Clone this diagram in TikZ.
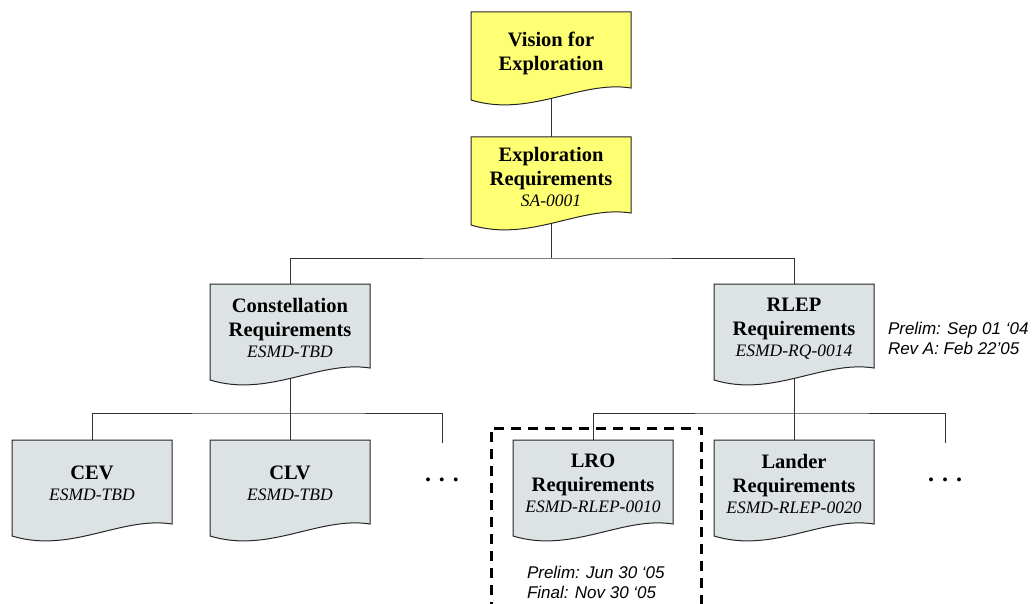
\documentclass[tikz,border=0pt]{standalone}
\usepackage{fontspec}
\setmainfont{Liberation Serif}
\newfontfamily\datefont{Liberation Sans}
\usetikzlibrary{positioning,calc}
\definecolor{docyellow}{RGB}{255,255,115}
\definecolor{docgrey}{RGB}{221,227,228}
\pgfdeclarelayer{background}
\pgfsetlayers{background,main}
% outline of a document node, wavy bottom edge
\newcommand\docshape[2]{
  \draw[docedge,fill=#2] (#1.north west) -- (#1.north east)
    -- ([yshift=12pt]#1.south east)
    .. controls ([xshift=-51pt,yshift=20pt]#1.south east) and ([xshift=59pt,yshift=-18pt]#1.south west) .. (#1.south west)
    -- cycle;
}
\newcommand\doccode[1]{\\[-3pt]{\mdseries\itshape\fontsize{17.5}{20}\selectfont #1}}

\begin{document}
\begin{tikzpicture}[outer sep=0pt,
    yellowdoc/.style={
      minimum width=160pt,
      minimum height=88pt,
      inner sep=0pt,
      align=center,
      text depth=9pt,
      font={\fontsize{20.5}{24}\selectfont\bfseries}},
    greydoc/.style={yellowdoc,minimum height=96pt},
    docedge/.style={draw=black!85,line width=1pt},
    link/.style={draw=black!80,line width=0.8pt},
    more/.style={inner sep=0pt,font={\fontsize{24}{24}\selectfont\bfseries}},
    dates/.style={inner sep=0pt,align=left,font={\fontsize{17}{20}\selectfont\datefont\itshape}},
    frame/.style={draw=black,line width=3pt,dash pattern=on 10pt off 7pt},
  ]
  \useasboundingbox (0,0) rectangle (1032pt,-604pt);
  \node[yellowdoc] (vision) at (551pt,-56pt) {Vision for\\Exploration};
  \node[yellowdoc,below=37pt of vision] (expl) {Exploration\\Requirements\doccode{SA-0001}};
  \node[greydoc,below left=59pt and 101pt of expl] (cons) {Constellation\\Requirements\doccode{ESMD-TBD}};
  \node[greydoc,below right=59pt and 83pt of expl] (rlep) {RLEP\\Requirements\doccode{ESMD-RQ-0014}};
  \node[greydoc,below left=60pt and 38pt of cons] (cev) {CEV\doccode{ESMD-TBD}};
  \node[greydoc,below=60pt of cons] (clv) {CLV\doccode{ESMD-TBD}};
  \node[more,right=55pt of clv,yshift=8pt] (dotsA) {. . .};
  \node[greydoc,below left=60pt and 41pt of rlep] (lro) {LRO\\Requirements\doccode{ESMD-RLEP-0010}};
  \node[greydoc,below=60pt of rlep] (lander) {Lander\\Requirements\doccode{ESMD-RLEP-0020}};
  \node[more,right=54pt of lander,yshift=8pt] (dotsB) {. . .};
  \node[dates,right=14pt of rlep,yshift=-6pt] (rlepdates) {Prelim: Sep 01 ‘04\\Rev A: Feb 22’05};
  \node[dates,below right=30pt and 14pt of lro.south west] (lrodates) {Prelim: Jun 30 ‘05\\Final: Nov 30 ‘05};
  \path (dotsA |- clv.north) ++(0,-3pt) coordinate (dotsAend);
  \path (dotsB |- lander.north) ++(0,-3pt) coordinate (dotsBend);
  \begin{pgfonlayer}{background}
    \draw[link] (vision.center) -- (expl.center);
    \draw[link] (expl.center) -- ([yshift=-33pt]expl.south);
    \draw[link] (cons.center) |- ([yshift=-33pt]expl.south) -| (rlep.center);
    \draw[link] (cons.center) -- (clv.center);
    \draw[link] (cev.center) |- ([yshift=-33pt]cons.south) -| (dotsAend);
    \draw[link] (rlep.center) -- (lander.center);
    \draw[link] (lro.center) |- ([yshift=-33pt]rlep.south) -| (dotsBend);
    \docshape{vision}{docyellow}
    \docshape{expl}{docyellow}
    \docshape{cons}{docgrey}
    \docshape{rlep}{docgrey}
    \docshape{cev}{docgrey}
    \docshape{clv}{docgrey}
    \docshape{lro}{docgrey}
    \docshape{lander}{docgrey}
  \end{pgfonlayer}
  % dashed frame round LRO, runs off the bottom
  \coordinate (bottomedge) at (0,-612pt);
  \coordinate (frameTL) at ($(lro.north west)+(-22pt,12pt)$);
  \coordinate (frameTR) at ($(lro.north east)+(28pt,12pt)$);
  \draw[frame] (frameTL |- bottomedge) -- (frameTL) -- (frameTR) -- (frameTR |- bottomedge);
\end{tikzpicture}
\end{document}
